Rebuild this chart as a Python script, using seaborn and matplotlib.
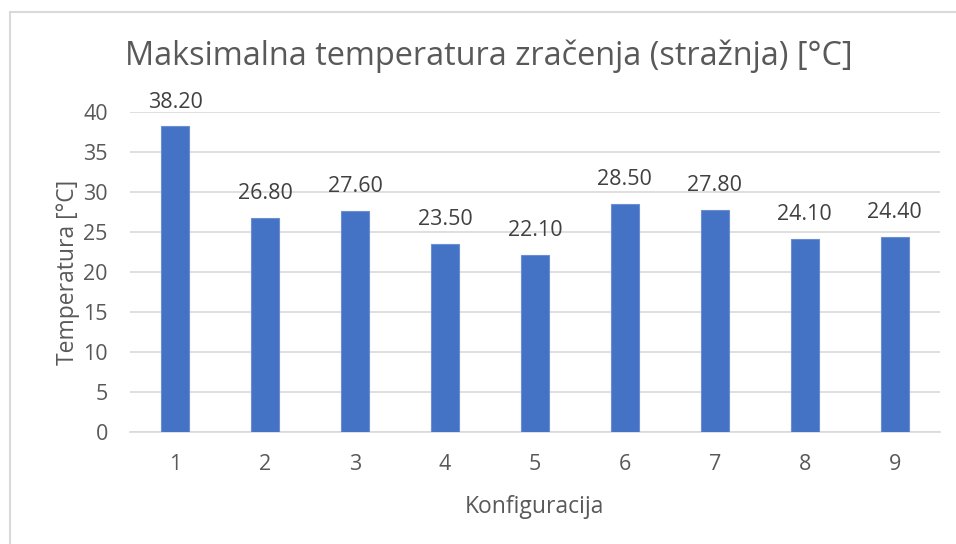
import matplotlib
matplotlib.use("Agg")
import matplotlib.pyplot as plt
from matplotlib.patches import Rectangle
import seaborn as sns
import pandas as pd

configs = ["1", "2", "3", "4", "5", "6", "7", "8", "9"]
max_temp = [38.20, 26.80, 27.60, 23.50, 22.10, 28.50, 27.80, 24.10, 24.40]
y_ticks = [0, 5, 10, 15, 20, 25, 30, 35, 40]

title = "Maksimalna temperatura zračenja (stražnja) [°C]"
x_label = "Konfiguracija"
y_label = "Temperatura [°C]"

sns.set_theme(style="white")
plt.rcParams["font.family"] = ["Open Sans", "DejaVu Sans"]

text_color = "#595959"
grid_color = "#D9D9D9"
bar_color = "#4472C4"

df = pd.DataFrame({"Konfiguracija": configs, "Temperatura": max_temp})

fig = plt.figure(figsize=(9.56, 5.44), dpi=100)
fig.patch.set_facecolor("white")
ax = fig.add_axes([0.136, 0.206, 0.847, 0.588])

sns.barplot(data=df, x="Konfiguracija", y="Temperatura", color=bar_color,
            saturation=1, width=0.31, edgecolor="#6A8FD6", linewidth=0.8,
            ax=ax, zorder=3)

ax.set_ylim(0, 40)
ax.set_xlim(-0.5, len(configs) - 0.5)
ax.set_yticks(y_ticks)
ax.set_yticklabels([str(t) for t in y_ticks])
ax.yaxis.grid(True, color=grid_color, linewidth=1.2, zorder=0)
ax.xaxis.grid(False)
for side in ["left", "right", "top"]:
    ax.spines[side].set_visible(False)
ax.spines["bottom"].set_color(grid_color)
ax.spines["bottom"].set_linewidth(1.2)
ax.tick_params(axis="both", length=0, labelsize=15.5, labelcolor=text_color)
ax.tick_params(axis="y", pad=16)
ax.tick_params(axis="x", pad=16)

ax.set_xlabel(x_label, fontsize=16.5, color=text_color, labelpad=14)
ax.set_ylabel(y_label, fontsize=16.5, color=text_color, labelpad=2)

for container in ax.containers:
    ax.bar_label(container, labels=[f"{v:.2f}" for v in max_temp],
                 padding=10, fontsize=15.5, color="#404040")

fig.text(0.511, 0.897, title, ha="center", va="center",
         fontsize=23.4, color=text_color)

# thin chart-area frame along the top and left
fig.patches.append(Rectangle((10 / 956, -0.05), 1.2, 1 - 12 / 544 + 0.05,
                             transform=fig.transFigure, fill=False,
                             edgecolor=grid_color, linewidth=1.5))

fig.savefig("out.png", dpi=100)
